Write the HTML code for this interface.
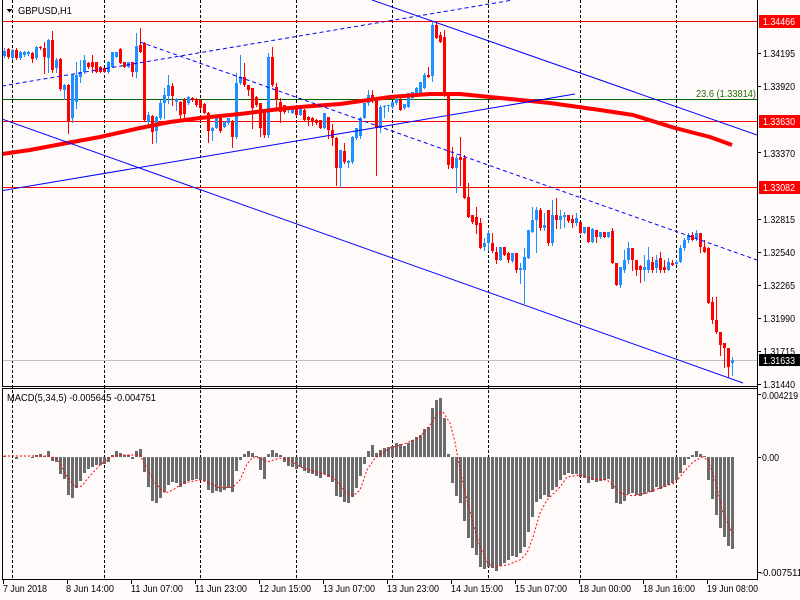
<!DOCTYPE html>
<html>
<head>
<meta charset="utf-8">
<style>
html,body{margin:0;padding:0;background:#FFFAFA;}
svg{display:block;}
text{font-family:"Liberation Sans",sans-serif;font-size:10.5px;}
</style>
</head>
<body>
<svg width="800" height="600" viewBox="0 0 800 600" xmlns="http://www.w3.org/2000/svg">
<defs>
<clipPath id="main"><rect x="3" y="0" width="754" height="386"/></clipPath>
<clipPath id="macd"><rect x="3" y="389" width="754" height="190"/></clipPath>
</defs>
<rect x="0" y="0" width="800" height="600" fill="#FFFAFA"/>

<!-- vertical dashed grid -->
<g stroke="#000" stroke-width="1" stroke-dasharray="3,2" shape-rendering="crispEdges">
<path d="M12.5 0V579M104.5 0V579M200.5 0V579M296.5 0V579M392.5 0V579M488.5 0V579M580.5 0V579M676.5 0V579"/>
</g>

<g clip-path="url(#main)">
<!-- horizontal levels -->
<g shape-rendering="crispEdges" stroke-width="1">
<path d="M2 21.5H757M2 121.5H757M2 187.5H757" stroke="#FF0000"/>
<path d="M2 99.5H757" stroke="#006400"/>
<path d="M2 360.5H757" stroke="#C0C0C0"/>
</g>

<!-- candles -->
<g fill="none" shape-rendering="crispEdges">
<path stroke="#1E90FF" stroke-width="1" d="M4.5 48V58M12.5 49V60M20.5 51V60M24.5 51V57M28.5 51V56M36.5 46V60M48.5 39V73M56.5 58V73M64.5 84V100M72.5 74V123M76.5 62V109M80.5 60V83M84.5 55V74M108.5 61V74M112.5 52V68M116.5 52V58M128.5 62V68M136.5 33V78M148.5 112V125M156.5 116V143M160.5 100V120M164.5 88V119M168.5 75V104M176.5 98V111M188.5 96V105M212.5 127V141M216.5 118V129M224.5 121V128M228.5 118V125M236.5 73V139M240.5 55V85M268.5 53V138M288.5 107V113M292.5 106V114M300.5 107V116M324.5 113V129M340.5 150V188M348.5 160V168M352.5 136V164M356.5 128V140M360.5 117V139M364.5 103V119M368.5 90V106M380.5 105V133M384.5 105V118M388.5 105V112M392.5 102V109M396.5 98V105M404.5 104V110M408.5 93V108M412.5 92V100M416.5 87V97M420.5 82V94M424.5 73V89M432.5 21V82M456.5 155V193M484.5 238V251M488.5 230V251M500.5 247V261M512.5 253V263M520.5 263V284M524.5 248V304M528.5 230V259M532.5 207V233M536.5 207V253M544.5 213V231M552.5 200V246M560.5 210V229M564.5 212V228M576.5 213V226M584.5 227V234M592.5 228V243M600.5 232V239M608.5 232V238M620.5 267V288M624.5 250V273M628.5 242V264M644.5 255V281M648.5 247V273M656.5 255V273M668.5 258V271M676.5 260V265M680.5 245V263M684.5 238V251M688.5 233V243M696.5 230V241M732.5 357V376"/>
<path stroke="#1E90FF" stroke-width="3" d="M4.5 51V56M12.5 50V58M20.5 52V58M24.5 52V55M28.5 52V54M36.5 47V58M48.5 40V58M56.5 60V68M64.5 85V90M72.5 75V118M76.5 75V102M80.5 72V77M84.5 60V72M108.5 62V72M112.5 52V67M116.5 52V57M128.5 62V67M136.5 46V72M148.5 115V122M156.5 117V131M160.5 103V118M164.5 95V103M168.5 85V96M176.5 99V102M188.5 97V103M212.5 128V131M216.5 118V128M224.5 122V127M228.5 118V123M236.5 83V137M240.5 77V83M268.5 57V135M288.5 108V110M292.5 107V113M300.5 108V115M324.5 113V128M340.5 150V168M348.5 161V163M352.5 137V162M356.5 128V138M360.5 118V136M364.5 103V118M368.5 95V103M380.5 107V128M384.5 106V107M388.5 105V106M392.5 102V107M396.5 99V103M404.5 104V108M408.5 93V107M412.5 92V98M416.5 88V95M420.5 82V93M424.5 75V88M432.5 25V76M456.5 158V168M484.5 243V247M488.5 233V243M500.5 247V260M512.5 253V261M520.5 268V270M524.5 257V270M528.5 230V258M532.5 220V232M536.5 210V220M544.5 225V228M552.5 215V243M560.5 216V220M564.5 215V217M576.5 218V223M584.5 227V233M592.5 229V242M600.5 232V237M608.5 232V237M620.5 267V285M624.5 260V270M628.5 248V260M644.5 267V270M648.5 260V270M656.5 260V268M668.5 262V270M676.5 262V264M680.5 248V262M684.5 240V248M688.5 235V240M696.5 233V238M732.5 360V363"/>
<path stroke="#FF0000" stroke-width="1" d="M8.5 48V59M16.5 48V60M32.5 52V63M40.5 46V50M44.5 42V74M52.5 31V73M60.5 58V91M68.5 84V134M88.5 62V69M92.5 55V73M96.5 62V73M100.5 66V73M104.5 68V73M120.5 48V64M124.5 62V68M132.5 62V77M140.5 28V53M144.5 42V122M152.5 115V144M172.5 83V106M180.5 101V119M184.5 98V118M192.5 97V102M196.5 98V107M200.5 99V110M204.5 103V114M208.5 112V143M220.5 118V133M232.5 120V148M244.5 63V87M248.5 85V96M252.5 88V129M256.5 96V107M260.5 103V137M264.5 113V138M272.5 47V87M276.5 83V109M280.5 98V123M284.5 105V114M296.5 106V116M304.5 109V122M308.5 116V126M312.5 117V126M316.5 119V125M320.5 120V129M328.5 117V139M332.5 124V146M336.5 137V186M344.5 143V164M372.5 90V103M376.5 98V176M400.5 98V111M428.5 67V78M436.5 22V39M440.5 32V43M444.5 30V97M448.5 94V169M452.5 147V169M460.5 137V186M464.5 155V199M468.5 183V218M472.5 215V224M476.5 207V234M480.5 218V249M492.5 233V253M496.5 247V264M504.5 247V256M508.5 252V263M516.5 253V273M540.5 208V231M548.5 210V246M556.5 198V229M568.5 215V223M572.5 215V228M580.5 222V234M588.5 227V243M596.5 230V243M604.5 232V238M612.5 228V264M616.5 263V286M632.5 248V271M636.5 260V276M640.5 265V283M652.5 257V273M660.5 252V273M664.5 260V273M672.5 260V266M692.5 232V241M700.5 233V253M704.5 240V253M708.5 247V304M712.5 297V324M716.5 297V334M720.5 332V356M724.5 343V368M728.5 348V378"/>
<path stroke="#FF0000" stroke-width="3" d="M8.5 49V57M16.5 50V58M32.5 53V59M40.5 47V48M44.5 48V57M52.5 40V70M60.5 59V89M68.5 85V122M88.5 63V67M92.5 62V67M96.5 62V72M100.5 67V72M104.5 68V72M120.5 49V63M124.5 62V67M132.5 62V72M140.5 45V52M144.5 43V120M152.5 116V132M172.5 86V96M180.5 102V115M184.5 100V114M192.5 98V100M196.5 99V105M200.5 100V108M204.5 104V113M208.5 113V131M220.5 118V131M232.5 121V137M244.5 77V85M248.5 85V90M252.5 88V108M256.5 97V105M260.5 103V128M264.5 113V135M272.5 57V85M276.5 87V100M280.5 102V112M284.5 105V112M296.5 107V115M304.5 110V120M308.5 117V120M312.5 118V121M316.5 120V123M320.5 120V128M328.5 117V130M332.5 130V138M336.5 138V168M344.5 151V162M372.5 95V100M376.5 98V128M400.5 100V110M428.5 75V77M436.5 25V38M440.5 35V42M444.5 37V95M448.5 95V165M452.5 157V168M460.5 157V160M464.5 158V198M468.5 197V217M472.5 215V222M476.5 217V225M480.5 223V248M492.5 243V251M496.5 252V260M504.5 247V255M508.5 253V260M516.5 253V270M540.5 210V228M548.5 210V243M556.5 215V220M568.5 215V221M572.5 219V223M580.5 222V233M588.5 227V242M596.5 230V237M604.5 232V237M612.5 231V263M616.5 263V285M632.5 248V260M636.5 260V270M640.5 266V270M652.5 262V270M660.5 258V270M664.5 267V270M672.5 263V265M692.5 235V240M700.5 233V247M704.5 247V252M708.5 248V303M712.5 302V320M716.5 320V332M720.5 332V345M724.5 343V348M728.5 348V367"/>
</g>

<!-- moving average -->
<polyline fill="none" stroke="#FF0000" stroke-width="4" stroke-linejoin="round" points="2,154 30,150 67,143 100,137 140,128 170,122 200,118 240,114 280,109 300,107 340,104 390,97 430,94 460,94 500,98 550,103 600,110 633,115 675,128 710,137 732,145"/>

<!-- trend lines -->
<g fill="none" stroke="#0000FF" stroke-width="1">
<line x1="2" y1="119" x2="743" y2="383"/>
<line x1="2" y1="190.7" x2="575" y2="94"/>
<line x1="372" y1="0" x2="757" y2="135"/>
<line x1="2" y1="86" x2="510" y2="0.5" stroke-dasharray="4,3"/>
<line x1="140" y1="42" x2="757" y2="260" stroke-dasharray="4,3"/>
</g>
<text x="696" y="97" fill="#1F6B00" textLength="60" lengthAdjust="spacingAndGlyphs">23.6 (1.33814)</text>
</g>

<!-- MACD -->
<g clip-path="url(#macd)">
<path fill="none" stroke="#6B6B6B" stroke-width="3" shape-rendering="crispEdges" d="M4.5 457V456M16.5 457V459M32.5 457V458M36.5 457V455M40.5 457V454M44.5 457V456M48.5 457V451M52.5 457V461M56.5 457V462M60.5 457V474M64.5 457V479M68.5 457V495M72.5 457V498M76.5 457V488M80.5 457V481M84.5 457V473M88.5 457V469M92.5 457V467M96.5 457V465M100.5 457V465M104.5 457V464M108.5 457V462M112.5 457V455M116.5 457V451M120.5 457V453M124.5 457V455M128.5 457V455M132.5 457V459M136.5 457V451M140.5 457V449M144.5 457V472M148.5 457V487M152.5 457V501M156.5 457V503M160.5 457V498M164.5 457V492M168.5 457V485M172.5 457V482M176.5 457V483M180.5 457V487M184.5 457V484M188.5 457V481M192.5 457V480M196.5 457V479M200.5 457V480M204.5 457V481M208.5 457V490M212.5 457V493M216.5 457V491M220.5 457V492M224.5 457V490M228.5 457V488M232.5 457V492M236.5 457V471M240.5 457V460M244.5 457V454M248.5 457V451M252.5 457V453M256.5 457V456M260.5 457V470M264.5 457V479M268.5 457V454M272.5 457V450M276.5 457V453M280.5 457V455M284.5 457V462M288.5 457V466M292.5 457V467M296.5 457V469M300.5 457V467M304.5 457V471M308.5 457V473M312.5 457V474M316.5 457V476M320.5 457V478M324.5 457V474M328.5 457V477M332.5 457V482M336.5 457V496M340.5 457V497M344.5 457V502M348.5 457V503M352.5 457V497M356.5 457V488M360.5 457V476M364.5 457V464M368.5 457V451M372.5 457V445M376.5 457V453M380.5 457V450M384.5 457V448M388.5 457V447M392.5 457V446M396.5 457V443M400.5 457V444M404.5 457V446M408.5 457V443M412.5 457V440M416.5 457V437M420.5 457V435M424.5 457V429M428.5 457V427M432.5 457V408M436.5 457V400M440.5 457V398M444.5 457V418M448.5 457V454M452.5 457V483M456.5 457V496M460.5 457V503M464.5 457V521M468.5 457V538M472.5 457V548M476.5 457V555M480.5 457V567M484.5 457V569M488.5 457V567M492.5 457V568M496.5 457V571M500.5 457V566M504.5 457V563M508.5 457V560M512.5 457V556M516.5 457V557M520.5 457V553M524.5 457V547M528.5 457V532M532.5 457V517M536.5 457V502M540.5 457V499M544.5 457V495M548.5 457V497M552.5 457V490M556.5 457V487M560.5 457V480M564.5 457V475M568.5 457V473M572.5 457V474M576.5 457V474M580.5 457V477M584.5 457V478M588.5 457V483M592.5 457V480M596.5 457V482M600.5 457V481M604.5 457V480M608.5 457V479M612.5 457V489M616.5 457V503M620.5 457V504M624.5 457V501M628.5 457V494M632.5 457V493M636.5 457V495M640.5 457V496M644.5 457V494M648.5 457V492M652.5 457V492M656.5 457V487M660.5 457V489M664.5 457V487M668.5 457V485M672.5 457V483M676.5 457V480M680.5 457V473M684.5 457V465M688.5 457V459M692.5 457V455M696.5 457V451M700.5 457V454M704.5 457V456M708.5 457V480M712.5 457V499M716.5 457V515M720.5 457V528M724.5 457V537M728.5 457V546M732.5 457V549"/>
<polyline fill="none" stroke="#FF0000" stroke-width="1" stroke-dasharray="2,2" points="4,456 50,456 58,460 68,478 75,487 82,486 88,478 100,465 110,457 120,455 140,455 148,470 155,483 165,493 173,490 183,483 200,480 210,483 220,488 233,487 240,480 247,464 253,457 260,458 267,462 280,458 290,460 300,467 320,473 333,477 340,485 347,494 353,496 360,490 367,470 375,458 390,448 407,443 420,437 430,425 438,413 443,412 450,423 455,442 460,470 467,500 473,523 480,547 487,562 493,567 507,565 520,560 527,553 533,537 540,513 547,500 560,487 567,477 580,475 593,479 607,480 613,485 620,493 633,496 647,493 660,488 675,483 683,473 693,462 702,457 708,460 715,480 723,513 732,533"/>
</g>

<!-- frame -->
<g stroke="#000" stroke-width="1" fill="none" shape-rendering="crispEdges">
<path d="M2.5 0V386M2.5 388V579"/>
<path d="M757.5 0V580"/>
<path d="M2 386.5H758M2 388.5H758M2 579.5H758"/>
<path d="M757 53.5H761M757 86.5H761M757 152.5H761M757 219.5H761M757 252.5H761M757 285.5H761M757 318.5H761M757 351.5H761M757 384.5H761M757 394.5H761M757 457.5H761M757 572.5H761"/>
<path d="M3.5 580V584M67.5 580V584M131.5 580V584M195.5 580V584M259.5 580V584M323.5 580V584M387.5 580V584M451.5 580V584M515.5 580V584M579.5 580V584M643.5 580V584M707.5 580V584"/>
</g>

<!-- price labels -->
<rect x="759" y="15" width="41" height="13" fill="#FF0000"/>
<rect x="759" y="115" width="41" height="13" fill="#FF0000"/>
<rect x="759" y="181" width="41" height="13" fill="#FF0000"/>
<rect x="759" y="354" width="41" height="12" fill="#000"/>
<g fill="#000">
<text x="763" y="25" fill="#fff" textLength="32" lengthAdjust="spacingAndGlyphs">1.34466</text>
<text x="763" y="57" textLength="32" lengthAdjust="spacingAndGlyphs">1.34195</text>
<text x="763" y="90" textLength="32" lengthAdjust="spacingAndGlyphs">1.33920</text>
<text x="763" y="125" fill="#fff" textLength="32" lengthAdjust="spacingAndGlyphs">1.33630</text>
<text x="763" y="157" textLength="32" lengthAdjust="spacingAndGlyphs">1.33370</text>
<text x="763" y="191" fill="#fff" textLength="32" lengthAdjust="spacingAndGlyphs">1.33082</text>
<text x="763" y="223" textLength="32" lengthAdjust="spacingAndGlyphs">1.32815</text>
<text x="763" y="256" textLength="32" lengthAdjust="spacingAndGlyphs">1.32540</text>
<text x="763" y="289" textLength="32" lengthAdjust="spacingAndGlyphs">1.32265</text>
<text x="763" y="322" textLength="32" lengthAdjust="spacingAndGlyphs">1.31990</text>
<text x="763" y="355" textLength="32" lengthAdjust="spacingAndGlyphs">1.31715</text>
<text x="763" y="364" fill="#fff" textLength="32" lengthAdjust="spacingAndGlyphs">1.31633</text>
<text x="763" y="388" textLength="32" lengthAdjust="spacingAndGlyphs">1.31440</text>
<text x="762" y="399" textLength="36" lengthAdjust="spacingAndGlyphs">0.004219</text>
<text x="762" y="461" textLength="17" lengthAdjust="spacingAndGlyphs">0.00</text>
<text x="760" y="576" textLength="42" lengthAdjust="spacingAndGlyphs">-0.007511</text>
</g>

<!-- time labels -->
<g fill="#000">
<text x="3" y="592" textLength="44" lengthAdjust="spacingAndGlyphs">7 Jun 2018</text>
<text x="66" y="592" textLength="48" lengthAdjust="spacingAndGlyphs">8 Jun 14:00</text>
<text x="131" y="592" textLength="52" lengthAdjust="spacingAndGlyphs">11 Jun 07:00</text>
<text x="195" y="592" textLength="52" lengthAdjust="spacingAndGlyphs">11 Jun 23:00</text>
<text x="259" y="592" textLength="52" lengthAdjust="spacingAndGlyphs">12 Jun 15:00</text>
<text x="323" y="592" textLength="52" lengthAdjust="spacingAndGlyphs">13 Jun 07:00</text>
<text x="387" y="592" textLength="52" lengthAdjust="spacingAndGlyphs">13 Jun 23:00</text>
<text x="451" y="592" textLength="52" lengthAdjust="spacingAndGlyphs">14 Jun 15:00</text>
<text x="515" y="592" textLength="52" lengthAdjust="spacingAndGlyphs">15 Jun 07:00</text>
<text x="579" y="592" textLength="52" lengthAdjust="spacingAndGlyphs">18 Jun 00:00</text>
<text x="643" y="592" textLength="52" lengthAdjust="spacingAndGlyphs">18 Jun 16:00</text>
<text x="707" y="592" textLength="51" lengthAdjust="spacingAndGlyphs">19 Jun 08:00</text>
</g>

<!-- titles -->
<polygon points="6.5,9 12.5,9 9.5,12.5" fill="#000"/>
<text x="18" y="14" fill="#000" textLength="54" lengthAdjust="spacingAndGlyphs">GBPUSD,H1</text>
<text x="7" y="401" fill="#000" textLength="149" lengthAdjust="spacingAndGlyphs">MACD(5,34,5) -0.005645 -0.004751</text>
</svg>
</body>
</html>
